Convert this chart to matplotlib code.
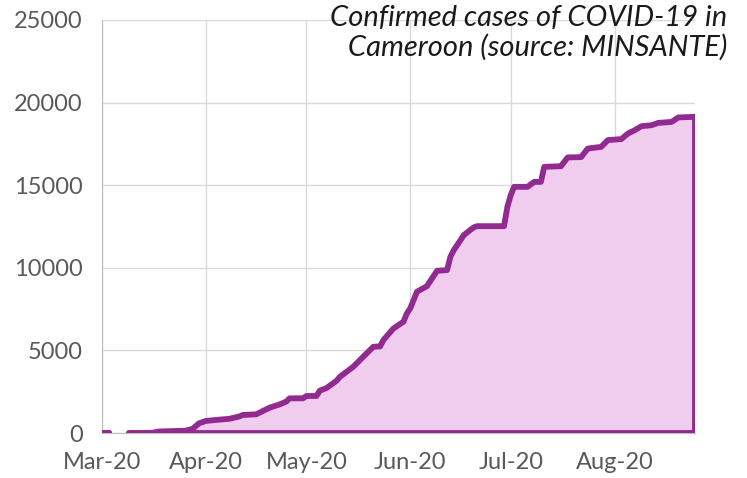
import numpy as np
import pandas as pd
import matplotlib
matplotlib.use("Agg")
import matplotlib.pyplot as plt
import matplotlib.dates as mdates

# cumulative confirmed cases, NaN = no report
dates = ["2020-03-01", "2020-03-02", "2020-03-03", "2020-03-04",
         "2020-03-09", "2020-03-16", "2020-03-18", "2020-03-26", "2020-03-28",
         "2020-03-29", "2020-03-30", "2020-04-01", "2020-04-04", "2020-04-08",
         "2020-04-11", "2020-04-12", "2020-04-16", "2020-04-18", "2020-04-20",
         "2020-04-23", "2020-04-25", "2020-04-26", "2020-04-30", "2020-05-01",
         "2020-05-04", "2020-05-05", "2020-05-07", "2020-05-10", "2020-05-11",
         "2020-05-15", "2020-05-18", "2020-05-21", "2020-05-23", "2020-05-24",
         "2020-05-27", "2020-05-30", "2020-05-31", "2020-06-01", "2020-06-03",
         "2020-06-06", "2020-06-09", "2020-06-12", "2020-06-13", "2020-06-14",
         "2020-06-15", "2020-06-17", "2020-06-19", "2020-06-20", "2020-06-21",
         "2020-06-29", "2020-06-30", "2020-07-01", "2020-07-02", "2020-07-06",
         "2020-07-08", "2020-07-10", "2020-07-11", "2020-07-16", "2020-07-18",
         "2020-07-22", "2020-07-24", "2020-07-28", "2020-07-30", "2020-08-03",
         "2020-08-05", "2020-08-07", "2020-08-09", "2020-08-12", "2020-08-14",
         "2020-08-18", "2020-08-20", "2020-08-25"]
cases = [0, 0, 0, np.nan,
         2, 10, 90, 140, 250,
         420, 590, 730, 790, 860,
         1000, 1090, 1130, 1330, 1530,
         1730, 1900, 2100, 2100, 2240,
         2240, 2560, 2720, 3160, 3400,
         4010, 4620, 5220, 5240, 5630,
         6330, 6740, 7240, 7540, 8550,
         8890, 9820, 9860, 10670, 11070,
         11370, 11980, 12300, 12450, 12520,
         12520, 13690, 14400, 14900, 14900,
         15200, 15200, 16110, 16150, 16680,
         16700, 17220, 17320, 17730, 17790,
         18130, 18330, 18570, 18630, 18770,
         18830, 19100, 19140]

month_ticks = ["2020-03-01", "2020-04-01", "2020-05-01", "2020-06-01",
               "2020-07-01", "2020-08-01"]
title = "Confirmed cases of COVID-19 in\n Cameroon (source: MINSANTE)"

x = pd.to_datetime(dates)
y = np.array(cases, dtype=float)

plt.rcParams['font.family'] = ['Lato', 'DejaVu Sans']

fig = plt.figure(figsize=(7.47, 4.78), dpi=100)
ax = fig.add_axes([102/747, 1-433/478, (695-102)/747, (433-20)/478])

purple = "#922B8F"
ax.fill_between(x, 0, y, facecolor="#F0CCEF", edgecolor=purple,
                linewidth=4.2, joinstyle="round", zorder=3)

ax.set_xlim(x[0], x[-1])
ax.set_ylim(0, 25000)
ax.set_yticks(np.arange(0, 25001, 5000))
ax.set_xticks(pd.to_datetime(month_ticks))
ax.xaxis.set_major_formatter(mdates.DateFormatter("%b-%y"))

ax.grid(True, color="#D9D9D9", linewidth=1)
ax.set_axisbelow(True)
for s in ["top", "right"]:
    ax.spines[s].set_visible(False)
for s in ["left", "bottom"]:
    ax.spines[s].set_color("#BFBFBF")
ax.tick_params(length=0, labelsize=17, labelcolor="#595959")
ax.tick_params(axis="x", pad=14)
ax.tick_params(axis="y", pad=14)

fig.text(727/747, 1-5/478, title, ha="right", va="top", fontsize=21,
         style="italic", color="#1a1a1a", linespacing=1.15)

fig.savefig("out.png", dpi=100)
